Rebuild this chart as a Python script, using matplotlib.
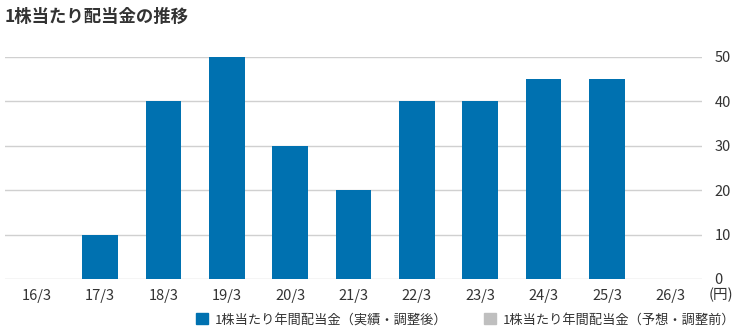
import matplotlib
matplotlib.use("Agg")
import matplotlib.pyplot as plt
from matplotlib.patches import Patch

plt.rcParams['font.family'] = ['Noto Sans CJK JP', 'DejaVu Sans']

# 1株当たり年間配当金 (円)
periods = ["16/3", "17/3", "18/3", "19/3", "20/3", "21/3", "22/3", "23/3", "24/3", "25/3", "26/3"]
actual = [0, 10, 40, 50, 30, 20, 40, 40, 45, 45, None]
forecast = [None] * len(periods)
yticks = [0, 10, 20, 30, 40, 50]

BLUE = "#0071b0"
GRAY = "#bfbfbf"
TEXT = "#333333"

fig = plt.figure(figsize=(7.38, 3.34), dpi=100)
ax = fig.add_axes([5 / 738, 55 / 334, 697 / 738, 222 / 334])

xs = list(range(len(periods)))
for x, v in zip(xs, actual):
    if v:
        ax.bar(x, v, width=0.56, color=BLUE, zorder=3, clip_on=False)
for x, v in zip(xs, forecast):
    if v:
        ax.bar(x, v, width=0.56, color=GRAY, zorder=3, clip_on=False)

ax.set_xlim(-0.5, len(periods) - 0.5)
ax.set_ylim(0, 50)
ax.set_yticks(yticks)
ax.yaxis.tick_right()
ax.grid(axis="y", color="#d0d0d0", linewidth=1, zorder=0)
for s in ax.spines.values():
    s.set_visible(False)
ax.tick_params(axis="both", length=0, labelsize=10.5, labelcolor=TEXT)
ax.tick_params(axis="y", pad=9)
ax.tick_params(axis="x", pad=7)
ax.set_xticks(xs)
ax.set_xticklabels(periods)

fig.text(721 / 738, 1 - 295 / 334, "(円)", fontsize=10.5, color=TEXT, ha="center", va="center")
fig.text(5 / 738, 1 - 17 / 334, "1株当たり配当金の推移", fontsize=12.5, fontweight="bold",
         color=TEXT, ha="left", va="center")

handles = [Patch(color=BLUE, label="1株当たり年間配当金（実績・調整後）"),
           Patch(color=GRAY, label="1株当たり年間配当金（予想・調整前）")]
fig.legend(handles=handles, loc="center", bbox_to_anchor=(466 / 738, 1 - 320 / 334), ncol=2,
           frameon=False, fontsize=9.5, handlelength=0.9, handleheight=0.9,
           handletextpad=0.5, columnspacing=2.8, labelcolor=TEXT)

fig.savefig("out.png", dpi=100)
